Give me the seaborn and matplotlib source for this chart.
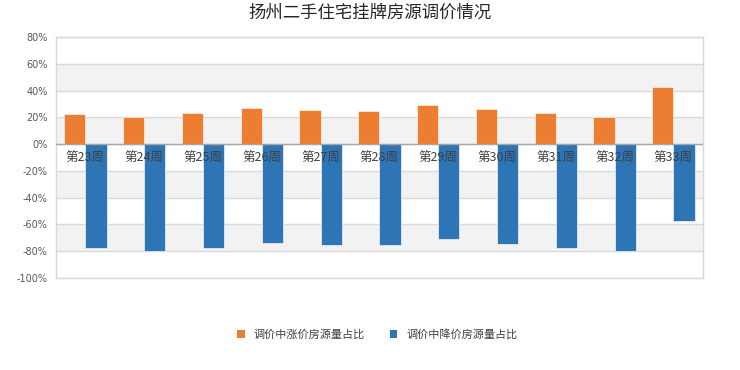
import numpy as np
import pandas as pd
import matplotlib
matplotlib.use("Agg")
import matplotlib.pyplot as plt
import seaborn as sns
from matplotlib.patches import Patch

# data
weeks = ["第23周", "第24周", "第25周", "第26周", "第27周", "第28周",
         "第29周", "第30周", "第31周", "第32周", "第33周"]
up_share = [22.7, 20.0, 23.4, 27.0, 25.4, 25.0, 29.0, 26.0, 23.0, 20.0, 43.0]
down_share = [-77.3, -80.0, -77.3, -73.8, -75.3, -75.3, -71.0, -74.6, -77.3, -80.0, -57.4]
series_names = ["调价中涨价房源量占比", "调价中降价房源量占比"]
yticks = list(range(-100, 81, 20))

df = pd.DataFrame({
    "week": weeks * 2,
    "value": up_share + down_share,
    "series": [series_names[0]] * len(weeks) + [series_names[1]] * len(weeks),
})

sns.set_style("white")
plt.rcParams['font.family'] = ['Noto Sans CJK SC', 'DejaVu Sans']

colors = ["#ED7D31", "#2E75B6"]

fig = plt.figure(figsize=(7.4, 3.7), dpi=100)
ax = fig.add_axes([0.0757, 0.2486, 0.874, 0.6514])

# alternating bands + grid lines
for lo in range(-80, 80, 40):
    ax.axhspan(lo, lo + 20, color="#F2F2F2", zorder=0, lw=0)
for y in yticks:
    ax.axhline(y, color="#D9D9D9", lw=1, zorder=0.5)

sns.barplot(data=df, x="week", y="value", hue="series", palette=colors,
            saturation=1, width=0.72, ax=ax, legend=False, zorder=2,
            edgecolor="#F4F4F4", linewidth=0.5)

ax.axhline(0, color="#A6A6A6", lw=1, zorder=3)
ax.set_ylim(-100, 80)
ax.set_xlim(-0.5, len(weeks) - 0.5)
ax.set_yticks(yticks)
ax.set_yticklabels([f"{v}%" for v in yticks], fontsize=7, color="#595959",
                   family=["DejaVu Sans"])
ax.tick_params(axis="y", length=0, pad=6)
ax.set_xticks(range(len(weeks)))
ax.set_xticklabels([])
for i, w in enumerate(weeks):
    ax.text(i, -5.5, w, ha="center", va="top", fontsize=9, color="#404040", zorder=4)
ax.tick_params(axis="x", length=0)
ax.set_xlabel("")
ax.set_ylabel("")
for s in ax.spines.values():
    s.set_color("#D9D9D9")
    s.set_linewidth(1)

fig.suptitle("扬州二手住宅挂牌房源调价情况", y=0.99, fontsize=12.5, color="#262626")

handles = [Patch(facecolor=c, edgecolor="none") for c in colors]
fig.legend(handles, series_names, loc="center", bbox_to_anchor=(0.51, 0.095),
           ncol=2, frameon=False, fontsize=8, handlelength=0.7, handleheight=0.7,
           columnspacing=2.2, handletextpad=0.8, labelcolor="#404040")

fig.savefig("out.png", dpi=100)
